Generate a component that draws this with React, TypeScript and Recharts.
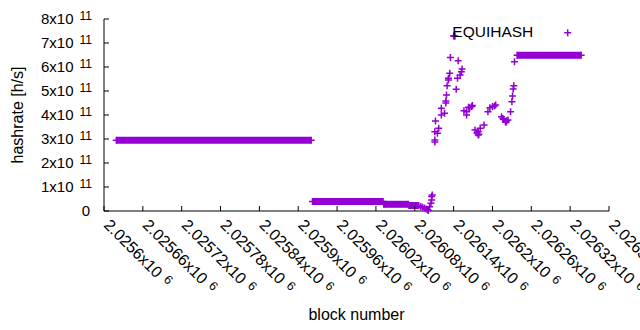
import React from 'react';
import { ComposedChart, Legend, Line, Scatter, XAxis, YAxis } from 'recharts';

const PURPLE = '#9400d3';
const FONT = '"Liberation Sans", Arial, sans-serif';

// long flat stretches of blocks with the same hashrate (x10^11 h/s)
const RUN_FIRST = [2025619, 2025922, 2026032, 2026071, 2026238];
const RUN_LAST = [2025920, 2026031, 2026070, 2026086, 2026337];
const RUN_RATE = [2.95, 0.4, 0.28, 0.23, 6.49];

// the noisy part in between (x10^11 h/s)
const POINT_BLOCKS = [
  2026089, 2026092, 2026095, 2026098, 2026100, 2026101,
  2026103, 2026105, 2026106, 2026106, 2026107,
  2026111, 2026111, 2026115, 2026111, 2026117, 2026112, 2026121, 2026126,
  2026121, 2026128, 2026128, 2026129, 2026130, 2026132, 2026132, 2026134,
  2026135, 2026140, 2026141, 2026142,
  2026144, 2026146, 2026147, 2026150, 2026152, 2026153,
  2026156, 2026160, 2026160, 2026163, 2026165, 2026168, 2026169,
  2026173, 2026176, 2026178, 2026178, 2026179, 2026181, 2026187,
  2026193, 2026196, 2026200, 2026203, 2026205,
  2026214, 2026216, 2026217, 2026220, 2026221, 2026222, 2026224,
  2026228, 2026230, 2026231, 2026232, 2026233, 2026234,
];
const POINT_RATES = [
  0.19, 0.16, 0.12, 0.08, 0.05, 0.02,
  0.18, 0.32, 0.46, 0.6, 0.67,
  2.88, 2.96, 3.24, 3.3, 3.45, 3.75, 4.0, 4.07,
  4.28, 4.5, 4.58, 4.83, 5.22, 5.46, 5.53, 5.74,
  6.4, 7.29, 7.3, 7.28,
  5.07, 5.53, 6.26, 5.67, 5.8, 5.92,
  4.18, 4.14, 4.0, 4.32, 4.3, 4.35, 4.4,
  3.38, 3.25, 3.17, 3.3, 3.2, 3.45, 3.58,
  4.14, 4.3, 4.35, 4.38, 4.42,
  3.93, 3.85, 3.82, 3.72, 3.7, 3.76, 3.79,
  4.14, 4.55, 4.79, 5.08, 5.22, 6.22,
];

const X_TICKS = [
  2025600, 2025660, 2025720, 2025780, 2025840, 2025900, 2025960,
  2026020, 2026080, 2026140, 2026200, 2026260, 2026320, 2026380,
];
const X_TICK_LABELS = [
  '2.0256', '2.02566', '2.02572', '2.02578', '2.02584', '2.0259', '2.02596',
  '2.02602', '2.02608', '2.02614', '2.0262', '2.02626', '2.02632', '2.02638',
];
const Y_TICKS = [0, 1, 2, 3, 4, 5, 6, 7, 8];
const Y_TICK_LABELS = ['0', '1', '2', '3', '4', '5', '6', '7', '8'];

const runs = RUN_RATE.map((y, i) => [
  { x: RUN_FIRST[i], y },
  { x: RUN_LAST[i], y },
]);
const points = POINT_BLOCKS.map((x, i) => ({ x, y: POINT_RATES[i] }));

function Plus({ cx, cy }: any) {
  if (cx == null || cy == null) return null;
  return (
    <path
      d={`M${cx - 3.5},${cy}h7M${cx},${cy - 3.5}v7`}
      stroke={PURPLE}
      strokeWidth={1.5}
      fill="none"
    />
  );
}

function BottomTick({ x, y, payload }: any) {
  const label = X_TICK_LABELS[X_TICKS.indexOf(payload.value)];
  const tx = x - 1;
  const ty = y + 15;
  return (
    <g>
      <line x1={x} y1={y} x2={x} y2={y - 5} stroke="#000" />
      <text
        x={tx}
        y={ty}
        transform={`rotate(45 ${tx} ${ty})`}
        fontSize={16}
        fontFamily={FONT}
        fill="#000"
      >
        {label}x10
        <tspan dx={6} dy={-4} fontSize={12.5}>
          6
        </tspan>
      </text>
    </g>
  );
}

function LeftTick({ x, y, payload }: any) {
  const label = Y_TICK_LABELS[Y_TICKS.indexOf(payload.value)];
  return (
    <g>
      <line x1={x} y1={y} x2={x + 5} y2={y} stroke="#000" />
      <text
        x={x - 12}
        y={y + 5}
        textAnchor="end"
        fontSize={15}
        fontFamily={FONT}
        fill="#000"
      >
        {label === '0' ? (
          <tspan dx={-2}>0</tspan>
        ) : (
          <>
            {label}x10
            <tspan dx={6} dy={-4} fontSize={12}>
              11
            </tspan>
          </>
        )}
      </text>
    </g>
  );
}

function TopTick({ x, y }: any) {
  return <line x1={x} y1={y} x2={x} y2={y + 5} stroke="#000" />;
}

function RightTick({ x, y }: any) {
  return <line x1={x} y1={y} x2={x - 5} y2={y} stroke="#000" />;
}

function KeyBox() {
  return (
    <svg width={145} height={24}>
      <text
        x={93.3}
        y={16.7}
        textAnchor="end"
        fontSize={15.5}
        fontFamily={FONT}
        fill="#000"
      >
        EQUIHASH
      </text>
      <Plus cx={127.7} cy={12.7} />
    </svg>
  );
}

export default function App() {
  return (
    <div style={{ position: 'absolute', left: 0, top: 0, background: '#fff' }}>
      <ComposedChart
        width={640}
        height={330}
        margin={{ top: 19, right: 31, bottom: 0, left: 0 }}
      >
        <XAxis
          dataKey="x"
          type="number"
          domain={[2025600, 2026380]}
          ticks={X_TICKS}
          interval={0}
          height={119}
          tickSize={0}
          tickMargin={0}
          tickLine={false}
          tick={<BottomTick />}
          axisLine={{ stroke: '#000' }}
          label={{
            content: ({ viewBox }: any) => (
              <text
                x={viewBox.x + viewBox.width / 2}
                y={viewBox.y + viewBox.height - 10}
                textAnchor="middle"
                fontSize={16}
                fontFamily={FONT}
                fill="#000"
              >
                block number
              </text>
            ),
          }}
        />
        <XAxis
          xAxisId="top"
          orientation="top"
          dataKey="x"
          type="number"
          domain={[2025600, 2026380]}
          ticks={X_TICKS}
          interval={0}
          height={0}
          tickSize={0}
          tickMargin={0}
          tickLine={false}
          tick={<TopTick />}
          axisLine={{ stroke: '#000' }}
        />
        <YAxis
          dataKey="y"
          type="number"
          domain={[0, 8]}
          ticks={Y_TICKS}
          interval={0}
          width={104}
          tickSize={0}
          tickMargin={0}
          tickLine={false}
          tick={<LeftTick />}
          axisLine={{ stroke: '#000' }}
          label={{
            content: ({ viewBox }: any) => {
              const cx = viewBox.x + 17;
              const cy = viewBox.y + viewBox.height / 2;
              return (
                <text
                  x={cx}
                  y={cy}
                  transform={`rotate(-90 ${cx} ${cy})`}
                  textAnchor="middle"
                  dominantBaseline="central"
                  fontSize={16}
                  fontFamily={FONT}
                  fill="#000"
                >
                  hashrate [h/s]
                </text>
              );
            },
          }}
        />
        <YAxis
          yAxisId="right"
          orientation="right"
          dataKey="y"
          type="number"
          domain={[0, 8]}
          ticks={Y_TICKS}
          interval={0}
          width={0}
          tickSize={0}
          tickMargin={0}
          tickLine={false}
          tick={<RightTick />}
          axisLine={{ stroke: '#000' }}
        />
        {runs.map((run, i) => (
          <Line
            key={`run-${i}`}
            data={run}
            dataKey="y"
            stroke={PURPLE}
            strokeWidth={7}
            legendType="none"
            isAnimationActive={false}
            dot={(p: any) => <Plus key={`d-${i}-${p.index}`} {...p} />}
            activeDot={false}
          />
        ))}
        <Scatter
          data={points}
          dataKey="y"
          fill={PURPLE}
          shape={(p: any) => <Plus {...p} />}
          isAnimationActive={false}
        />
        <Legend
          layout="horizontal"
          verticalAlign="middle"
          align="center"
          wrapperStyle={{ left: 440, top: 20, width: 145, height: 24 }}
          content={() => <KeyBox />}
        />
      </ComposedChart>
    </div>
  );
}
